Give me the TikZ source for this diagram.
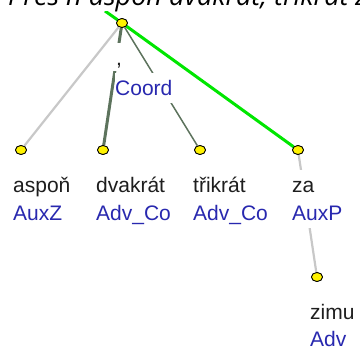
\documentclass[tikz,border=0pt]{standalone}
\usepackage{fontspec}
\setmainfont{Liberation Sans}
\newfontfamily\topfont{Open Sans}
\usetikzlibrary{shapes.geometric}
\definecolor{wordc}{RGB}{30,30,30}
\definecolor{funcc}{RGB}{40,40,175}
\definecolor{lgray}{RGB}{200,200,200}
\definecolor{dgreen}{RGB}{93,115,93}
\definecolor{hgreen}{RGB}{0,230,0}
\begin{document}
\begin{tikzpicture}[x=1pt,y=-1pt,
  treenode/.style={ellipse, draw=black, line width=0.8pt, fill=yellow, minimum width=11pt, minimum height=9pt, inner sep=0pt},
  lab/.style={anchor=base west, inner sep=0pt, fill=white, font=\fontsize{21}{21}\selectfont},
  wordlab/.style={lab, text=wordc, text height=22pt, text depth=6pt},
  funclab/.style={lab, text=funcc, text height=22pt, text depth=8pt},
  lightedge/.style={draw=lgray, line width=2.2pt},
  darkedge/.style={draw=dgreen},
  hiedge/.style={draw=hgreen, line width=3pt}]
\useasboundingbox (0,0) rectangle (360,351);
% nodes (positions)
\coordinate (up) at (105,11);
\node[treenode] (r) at (122,23) {};
\node[treenode] (a) at (21,150) {};
\node[treenode] (d) at (103,150) {};
\node[treenode] (t) at (200,150) {};
\node[treenode] (z) at (298,150) {};
\node[treenode] (zi) at (317,277) {};
% edges
\draw[lightedge] (r) -- (a);
\draw[darkedge, line width=3pt] (r) -- (d);
\draw[darkedge, line width=1.5pt] (r) -- (t);
\draw[hiedge] (r) -- (z);
\draw[hiedge] (r) -- (up);
\draw[lightedge] (z) -- (zi);
% labels
\node[wordlab, inner xsep=5pt] (rw) at (110,65) {\hspace*{1pt},};
\node[funclab] (rf) at (115,95) {Coord};
\node[wordlab] (aw) at (13,192) {aspoň};
\node[funclab] (af) at (13,220) {AuxZ};
\node[wordlab] (dw) at (96,192) {dvakrát};
\node[funclab] (df) at (96,220) {Adv\_Co};
\node[wordlab] (tw) at (193,192) {třikrát};
\node[funclab] (tf) at (193,220) {Adv\_Co};
\node[wordlab] (zw) at (292,192) {za};
\node[funclab] (zf) at (292,220) {AuxP};
\node[wordlab] (ziw) at (310,319) {zimu};
\node[funclab] (zif) at (310,346) {Adv};
% redraw node markers on top
\foreach \n in {r,a,d,t,z,zi} \node[treenode] at (\n) {};
% sentence at top (cut off)
\node[anchor=base west, inner sep=0pt, fill=white, text depth=6pt, font=\topfont\itshape\fontsize{27}{27}\selectfont] (title) at (8,5) {Přes n aspoň dvakrát, třikrát za zimu};
\end{tikzpicture}
\end{document}
